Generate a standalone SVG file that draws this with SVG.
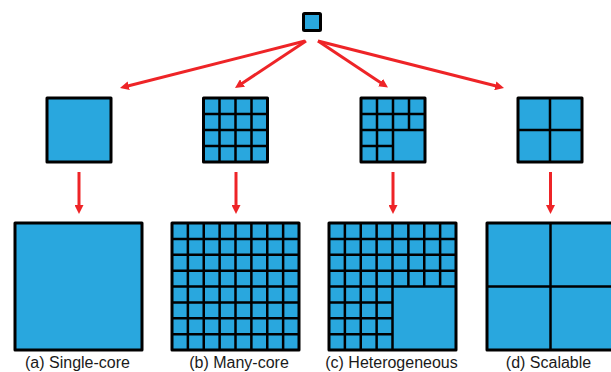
<svg xmlns="http://www.w3.org/2000/svg" width="611" height="372" viewBox="0 0 611 372">
  <style>
    .core { fill: #29a7de; stroke: #000; stroke-width: 3; stroke-linejoin: round; }
    .grid { fill: none; stroke: #000; stroke-width: 2.5; }
    .link { stroke: #ee2427; stroke-width: 3; fill: none; marker-end: url(#head); }
    .label { font-family: "Liberation Sans", Arial, sans-serif; font-size: 16px; fill: #1a1a1a; text-anchor: middle; }
  </style>
  <defs>
    <marker id="head" markerUnits="userSpaceOnUse" markerWidth="10" markerHeight="9" refX="3" refY="4.5" orient="auto">
      <path d="M0,0 L9,4.5 L0,9 z" fill="#ee2427"/>
    </marker>
  </defs>
  <rect width="611" height="372" fill="#fff"/>

  <!-- connectors -->
  <g id="connectors">
    <line class="link" x1="305" y1="41" x2="125.8" y2="86.5"/>
    <line class="link" x1="306" y1="41" x2="240" y2="84.7"/>
    <line class="link" x1="318" y1="41" x2="383" y2="84.2"/>
    <line class="link" x1="318" y1="41" x2="498.2" y2="86.5"/>
    <line class="link" x1="79" y1="172" x2="79" y2="208"/>
    <line class="link" x1="236" y1="172" x2="236" y2="208"/>
    <line class="link" x1="393" y1="172" x2="393" y2="208"/>
    <line class="link" x1="550.5" y1="172" x2="550.5" y2="208"/>
  </g>

  <!-- root core -->
  <g id="root">
    <rect class="core" x="303.5" y="13.5" width="17" height="17" rx="1"/>
  </g>

  <!-- middle row: 64x64 chips -->
  <g id="mid-single" transform="translate(47,98)">
    <rect class="core" width="64" height="64"/>
  </g>
  <g id="mid-many" transform="translate(203.5,98)">
    <rect class="core" width="64" height="64"/>
    <path class="grid" d="M16,0V64M32,0V64M48,0V64M0,16H64M0,32H64M0,48H64"/>
  </g>
  <g id="mid-hetero" transform="translate(361,98)">
    <rect class="core" width="64" height="64"/>
    <path class="grid" d="M16,0V64M32,0V64M48,0V32M0,16H64M0,32H64M0,48H32"/>
  </g>
  <g id="mid-scalable" transform="translate(518,98)">
    <rect class="core" width="64" height="64"/>
    <path class="grid" d="M32,0V64M0,32H64"/>
  </g>

  <!-- bottom row: 127x127 chips -->
  <g id="big-single" transform="translate(15,223)">
    <rect class="core" width="127" height="127"/>
  </g>
  <g id="big-many" transform="translate(172,223)">
    <rect class="core" width="127" height="127"/>
    <path class="grid" d="M15.875,0V127M31.75,0V127M47.625,0V127M63.5,0V127M79.375,0V127M95.25,0V127M111.125,0V127M0,15.875H127M0,31.75H127M0,47.625H127M0,63.5H127M0,79.375H127M0,95.25H127M0,111.125H127"/>
  </g>
  <g id="big-hetero" transform="translate(329,223)">
    <rect class="core" width="127" height="127"/>
    <path class="grid" d="M15.875,0V127M31.75,0V127M47.625,0V127M63.5,0V127M79.375,0V63.5M95.25,0V63.5M111.125,0V63.5M0,15.875H127M0,31.75H127M0,47.625H127M0,63.5H127M0,79.375H63.5M0,95.25H63.5M0,111.125H63.5"/>
  </g>
  <g id="big-scalable" transform="translate(487,223)">
    <rect class="core" width="127" height="127"/>
    <path class="grid" d="M63.5,0V127M0,63.5H127"/>
  </g>

  <!-- captions -->
  <g id="captions">
    <text class="label" x="77.5" y="368">(a) Single-core</text>
    <text class="label" x="239" y="368">(b) Many-core</text>
    <text class="label" x="391.5" y="368">(c) Heterogeneous</text>
    <text class="label" x="548.5" y="368">(d) Scalable</text>
  </g>
</svg>
